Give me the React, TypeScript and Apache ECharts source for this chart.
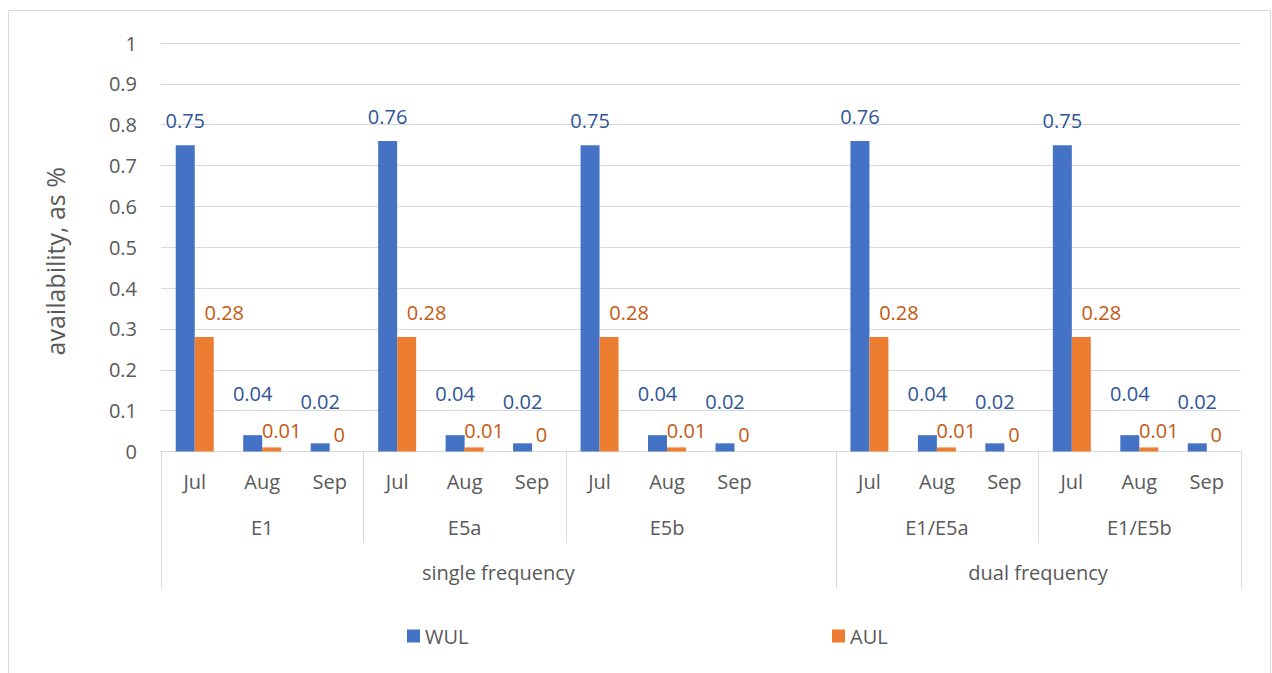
import React, { useEffect, useRef } from "react";
import * as echarts from "echarts";

const categories = ["Jul", "Aug", "Sep", "Jul", "Aug", "Sep", "Jul", "Aug", "Sep", "", "Jul", "Aug", "Sep", "Jul", "Aug", "Sep"];
const bands = ["E1", "E5a", "E5b", "", "E1/E5a", "E1/E5b"];
const bandSizes = [3, 3, 3, 1, 3, 3];
const frequencies = ["single frequency", "dual frequency"];
const frequencySizes = [10, 6];
const wul = [0.75, 0.04, 0.02, 0.76, 0.04, 0.02, 0.75, 0.04, 0.02, null, 0.76, 0.04, 0.02, 0.75, 0.04, 0.02];
const aul = [0.28, 0.01, 0, 0.28, 0.01, 0, 0.28, 0.01, 0, null, 0.28, 0.01, 0, 0.28, 0.01, 0];
const yTicks = [0, 0.1, 0.2, 0.3, 0.4, 0.5, 0.6, 0.7, 0.8, 0.9, 1];

const FONT = "'Open Sans', 'Noto Sans', sans-serif";
const GRAY = "#595959";
const LINE = "#D9D9D9";

function edges(sizes: number[]) {
  const out = [0];
  sizes.forEach((s) => out.push(out[out.length - 1] + s));
  return out;
}

export default function App() {
  const ref = useRef<HTMLDivElement>(null);
  useEffect(() => {
    if (!ref.current) return;
    const chart = echarts.init(ref.current, null, { renderer: "svg" });
    const n = categories.length;

    const bandEdges = edges(bandSizes);
    const freqEdges = edges(frequencySizes);
    const bandLabel = new Map<number, string>();
    bands.forEach((b, i) => bandLabel.set((bandEdges[i] + bandEdges[i + 1]) / 2, b));
    const freqLabel = new Map<number, string>();
    frequencies.forEach((f, i) => freqLabel.set((freqEdges[i] + freqEdges[i + 1]) / 2, f));

    const separators: number[][] = [];
    freqEdges.forEach((e) => separators.push([e, 2]));
    for (let i = 1; i < bandEdges.length - 1; i++) {
      const e = bandEdges[i];
      if (freqEdges.includes(e)) continue;
      if (bands[i - 1] === "" || bands[i] === "") continue;
      separators.push([e, 1]);
    }

    const valueAxisBase = {
      type: "value",
      min: 0,
      max: n,
      interval: 0.5,
      position: "bottom",
      axisLine: { show: false },
      axisTick: { show: false },
      splitLine: { show: false },
      showMinLabel: true,
      showMaxLabel: true,
    };

    const yLimits = { min: yTicks[0], max: yTicks[yTicks.length - 1], interval: yTicks[1] - yTicks[0] };

    chart.setOption({
      animation: false,
      textStyle: { fontFamily: FONT },
      graphic: [
        {
          type: "rect",
          shape: { x: 8.5, y: 10.5, width: 1262, height: 700 },
          style: { fill: "none", stroke: LINE, lineWidth: 1 },
          silent: true,
          z: -1,
        },
      ],
      grid: { left: 161, right: 31.5, top: 43, bottom: 221.5, containLabel: false },
      legend: [
        {
          data: ["WUL"],
          left: 402,
          top: 621,
          icon: "rect",
          itemWidth: 13,
          itemHeight: 13,
          itemGap: 5,
          textStyle: { color: GRAY, fontSize: 20, fontFamily: FONT },
        },
        {
          data: ["AUL"],
          left: 827,
          top: 621,
          icon: "rect",
          itemWidth: 13,
          itemHeight: 13,
          itemGap: 5,
          textStyle: { color: GRAY, fontSize: 20, fontFamily: FONT },
        },
      ],
      xAxis: [
        {
          type: "category",
          data: categories,
          position: "bottom",
          axisLine: { show: true, lineStyle: { color: LINE, width: 1 } },
          axisTick: { show: false },
          axisLabel: { interval: 0, margin: 20, color: GRAY, fontSize: 20, fontFamily: FONT },
        },
        {
          ...valueAxisBase,
          axisLabel: {
            margin: 66,
            color: GRAY,
            fontSize: 20,
            fontFamily: FONT,
            formatter: (v: number) => bandLabel.get(v) ?? "",
          },
        },
        {
          ...valueAxisBase,
          axisLabel: {
            margin: 111,
            color: GRAY,
            fontSize: 20,
            fontFamily: FONT,
            formatter: (v: number) => freqLabel.get(v) ?? "",
          },
        },
      ],
      yAxis: {
        type: "value",
        ...yLimits,
        name: "availability, as %",
        nameLocation: "middle",
        nameGap: 94,
        nameTextStyle: { color: GRAY, fontSize: 25, fontFamily: FONT, padding: [0, 28, 0, 0] },
        axisLine: { show: false },
        axisTick: { show: false },
        splitLine: { lineStyle: { color: LINE, width: 1 } },
        axisLabel: { margin: 24, color: GRAY, fontSize: 20, fontFamily: FONT },
      },
      series: [
        {
          name: "WUL",
          type: "bar",
          xAxisIndex: 0,
          barWidth: 19,
          barGap: "0%",
          itemStyle: { color: "#4472C4" },
          data: wul.map((v) => ({
            value: v,
            label: {
              show: v !== null,
              position: "top",
              distance: v !== null && v >= 0.1 ? 15 : 32,
              color: "#2F5597",
              fontSize: 20,
              fontFamily: FONT,
            },
          })),
        },
        {
          name: "AUL",
          type: "bar",
          xAxisIndex: 0,
          barWidth: 19,
          barGap: "0%",
          itemStyle: { color: "#ED7D31" },
          data: aul.map((v) => ({
            value: v,
            label: {
              show: v !== null,
              position: "top",
              distance: v !== null && v >= 0.1 ? 15 : 7,
              offset: v !== null && v >= 0.1 ? [20, 0] : v ? [10, 0] : [0, 0],
              color: "#C55A11",
              fontSize: 20,
              fontFamily: FONT,
            },
          })),
        },
        {
          type: "custom",
          xAxisIndex: 1,
          yAxisIndex: 0,
          clip: false,
          silent: true,
          data: separators,
          renderItem: (_params: any, api: any) => {
            const p = api.coord([api.value(0), 0]);
            const depth = api.value(1) === 2 ? 136.5 : 91.5;
            const x = Math.round(p[0]) + 0.5;
            return {
              type: "line",
              shape: { x1: x, y1: p[1], x2: x, y2: p[1] + depth },
              style: { stroke: LINE, lineWidth: 1 },
            };
          },
        },
      ],
    });
    return () => chart.dispose();
  }, []);

  return (
    <div
      ref={ref}
      style={{ position: "absolute", left: 0, top: 0, width: 1272, height: 673, background: "#fff" }}
    />
  );
}
